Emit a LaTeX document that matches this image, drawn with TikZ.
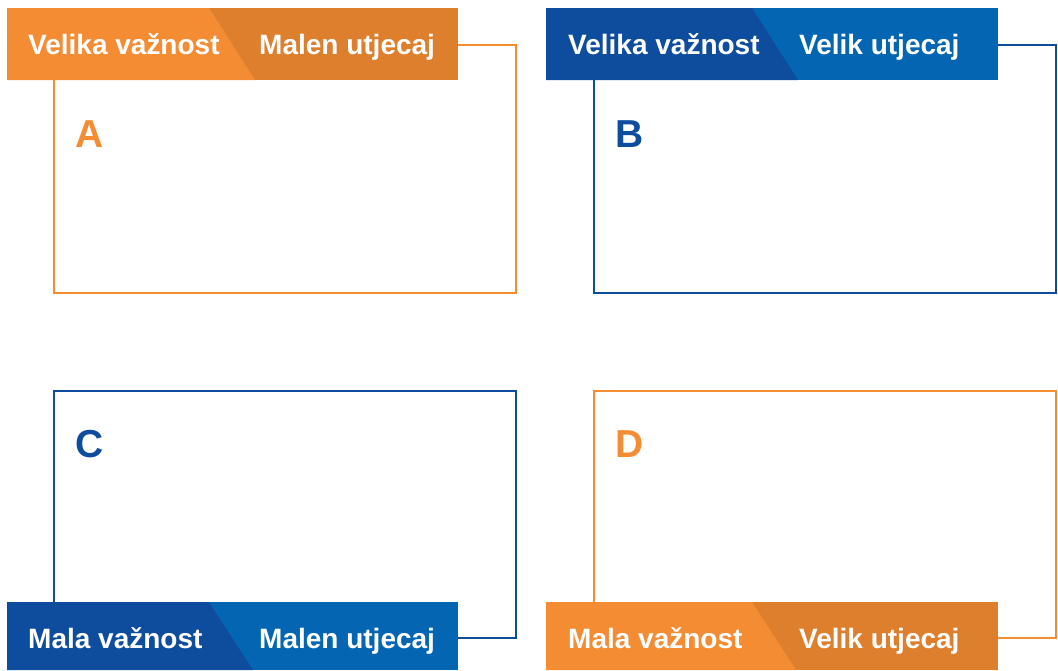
\documentclass[tikz,border=0pt]{standalone}
\usepackage{fontspec}
\setmainfont{Liberation Sans}
\definecolor{orL}{HTML}{F48C33}
\definecolor{orD}{HTML}{DD7F2D}
\definecolor{blD}{HTML}{0E4C9E}
\definecolor{blL}{HTML}{0466B2}
\tikzset{
  lbl/.style={anchor=base west, inner sep=0pt, text=white, font=\fontsize{28}{30}\selectfont\bfseries},
  letter/.style={anchor=base west, inner sep=0pt, font=\fontsize{39}{44}\selectfont\bfseries},
  frame/.style={line width=2pt}
}
\begin{document}
\begin{tikzpicture}[x=1pt,y=-1pt]
\useasboundingbox (0,0) rectangle (1058,670);
% ---------- A ----------
\draw[frame,orL] (54,45) rectangle (516,293);
\fill[orD] (7,8) rectangle (458,80);
\fill[orL] (7,8) -- (209,8) -- (255,80) -- (7,80) -- cycle;
\node[lbl] (a1) at (28,54) {Velika važnost};
\node[lbl] (a2) at (259,54) {Malen utjecaj};
\node[letter,text=orL] (la) at (75,147) {A};
% ---------- B ----------
\draw[frame,blD] (594,45) rectangle (1056,293);
\fill[blL] (546,8) rectangle (998,80);
\fill[blD] (546,8) -- (752,8) -- (798,80) -- (546,80) -- cycle;
\node[lbl] (b1) at (568,54) {Velika važnost};
\node[lbl] (b2) at (799,54) {Velik utjecaj};
\node[letter,text=blD] (lb) at (615,147) {B};
% ---------- C ----------
\draw[frame,blD] (54,391) rectangle (516,638);
\fill[blL] (7,602) rectangle (458,670);
\fill[blD] (7,602) -- (209,602) -- (253,670) -- (7,670) -- cycle;
\node[lbl] (c1) at (28,648) {Mala važnost};
\node[lbl] (c2) at (259,648) {Malen utjecaj};
\node[letter,text=blD] (lc) at (75,457) {C};
% ---------- D ----------
\draw[frame,orL] (594,391) rectangle (1056,638);
\fill[orD] (546,602) rectangle (998,670);
\fill[orL] (546,602) -- (752,602) -- (796,670) -- (546,670) -- cycle;
\node[lbl] (d1) at (568,648) {Mala važnost};
\node[lbl] (d2) at (799,648) {Velik utjecaj};
\node[letter,text=orL] (ld) at (615,457) {D};
\end{tikzpicture}
\end{document}
